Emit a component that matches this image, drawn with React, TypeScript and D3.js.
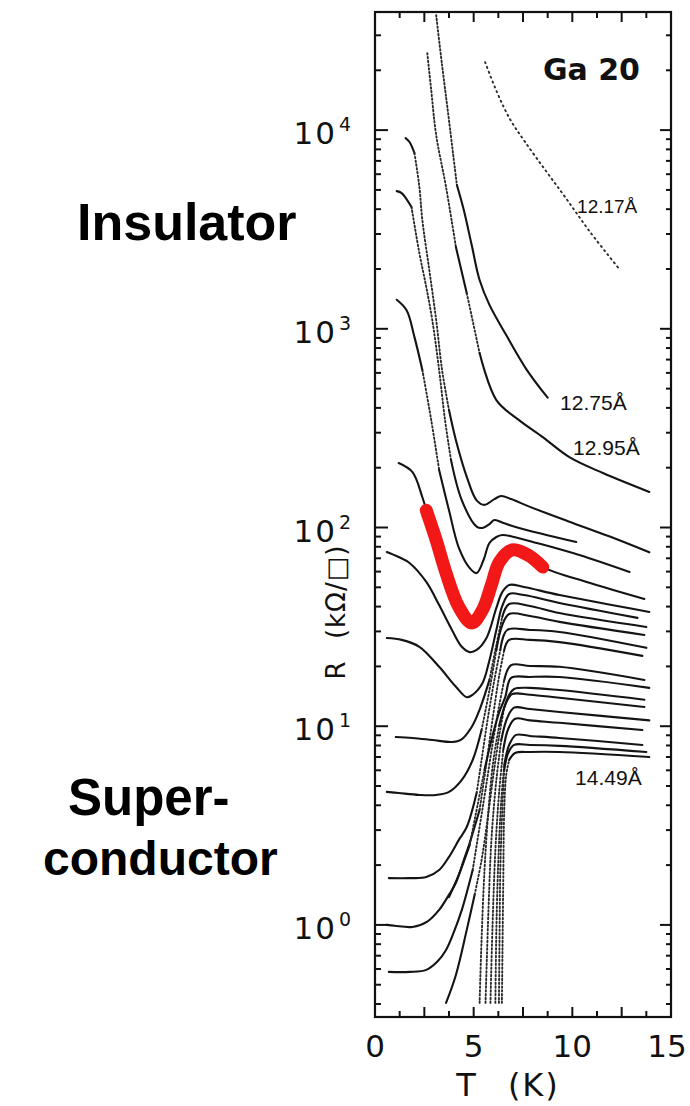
import React from 'react';
import * as d3 from 'd3';

const W = 690;
const H = 1106;

// axis domains
const xDomain: [number, number] = [0, 15];
const yDomain: [number, number] = [0.344, 39300];
const xTickLabels = [0, 5, 10, 15];
const yTickExps = [0, 1, 2, 3, 4];

// curves: [T (K), R (kOhm/sq)]
const c1217: [number, number][] = [[5.58, 21990], [6.18, 15530], [6.84, 11350], [7.6, 8730], [8.62, 6310], [9.63, 4610], [10.9, 3070], [12.42, 1976]];
const c1275: [number, number][] = [[3.1, 37900], [3.4, 21200], [3.75, 11200], [4.15, 5290], [4.5, 3960], [4.9, 2640], [5.3, 1760], [5.8, 1320], [6.65, 930], [7.7, 620], [8.75, 450]];
const c1295: [number, number][] = [[2.65, 24400], [2.85, 15900], [3.1, 9440], [3.6, 5170], [4.1, 2580], [4.65, 1510], [5.3, 755], [6.15, 438], [7.3, 347], [8.5, 285], [9.85, 226], [11.55, 188], [13.9, 151]];
const c1: [number, number][] = [[1.55, 9120], [1.75, 8710], [2.0, 7660], [2.25, 5170], [2.4, 3520], [2.75, 1980], [3.1, 1110], [3.4, 620], [3.75, 390], [4.1, 275], [4.65, 180], [5.15, 137], [5.55, 130], [6.05, 139], [6.4, 144], [6.9, 139], [7.85, 127], [9.85, 107], [11.9, 90], [13.9, 75]];
const c2: [number, number][] = [[1.1, 4930], [1.35, 4820], [1.85, 4100], [2.25, 2400], [2.6, 1620], [2.9, 1110], [3.25, 620], [3.55, 347], [3.85, 219], [4.4, 137], [5.15, 101], [5.45, 99.5], [5.8, 104], [6.05, 109], [6.55, 105], [7.3, 99.5], [10.2, 84.5]];
const c3: [number, number][] = [[1.1, 1400], [1.6, 1240], [2.0, 908], [2.4, 620], [2.85, 347], [3.25, 195], [3.75, 122], [4.25, 79], [4.8, 62.5], [5.15, 59], [5.5, 68.6], [5.8, 83.6], [6.15, 89.6], [6.45, 91.7], [7.05, 89.6], [8.2, 83.6], [10.35, 72.7], [12.9, 59.7]];
const c4: [number, number][] = [[1.2, 211], [1.9, 190], [2.4, 142], [2.75, 109], [3.25, 75], [3.75, 51], [4.25, 39.8], [4.7, 34.3], [5.0, 33.5], [5.45, 38.5], [5.9, 51.4], [6.3, 66.3], [6.65, 74.5], [7.05, 76.2], [7.85, 71.1], [8.5, 63.2], [10.9, 52.6], [13.65, 43.7]];
const c5: [number, number][] = [[0.6, 75.3], [1.2, 71], [1.75, 66.3], [2.6, 53.2], [3.25, 40.7], [3.9, 30.5], [4.4, 25.1], [4.8, 23.6], [5.15, 24.2], [5.65, 27.8], [6.15, 39.4], [6.45, 47.3], [6.8, 51.4], [7.55, 50.2], [9.35, 45.7], [13.9, 37.6]];
const c6: [number, number][] = [[0.6, 27.8], [1.35, 27.2], [2.25, 25.1], [3.25, 19.9], [4.1, 15.8], [4.65, 14.0], [4.95, 14.4], [5.45, 16.5], [5.8, 21.5], [6.15, 30.5], [6.45, 40.3], [6.8, 46.3], [7.55, 45.7], [9.35, 41.7], [13.3, 35.1]];
const c7: [number, number][] = [[1.05, 8.83], [1.9, 8.73], [2.9, 8.53], [3.9, 8.33], [4.35, 8.53], [4.9, 9.91], [5.3, 12.1], [5.8, 17.1], [6.15, 25.6], [6.45, 35.5], [6.8, 41.2], [7.85, 40.3], [9.35, 37.1], [13.75, 31.6]];
const c8: [number, number][] = [[0.6, 4.67], [1.2, 4.61], [2.25, 4.51], [3.1, 4.51], [3.75, 4.67], [4.4, 5.37], [4.95, 6.76], [5.4, 9.57], [5.8, 15.2], [6.15, 24.2], [6.45, 32.3], [6.8, 36.7], [7.85, 35.9], [9.35, 33.5], [13.65, 28.8]];
const c9: [number, number][] = [[0.7, 1.72], [1.75, 1.72], [2.6, 1.74], [3.25, 1.89], [3.75, 2.2], [4.25, 2.68], [4.65, 3.11], [5.15, 4.61], [5.4, 6.76], [5.7, 10.7], [6.05, 17.1], [6.35, 24.2], [6.7, 30.5], [7.85, 30.5], [9.35, 29.8], [13.75, 24.8]];
const c10: [number, number][] = [[0.6, 1.0], [1.0, 0.99], [1.9, 0.977], [2.65, 1.04], [3.25, 1.19], [3.75, 1.42], [4.1, 1.63], [4.5, 2.12], [4.8, 2.59], [5.3, 3.79], [5.6, 6.03], [5.95, 10.7], [6.3, 18.1], [6.55, 24.2], [6.8, 27.2], [7.85, 27.2], [9.35, 26.5], [13.55, 22.6]];
const c11: [number, number][] = [[0.7, 0.58], [1.75, 0.58], [2.6, 0.594], [3.15, 0.652], [3.6, 0.748], [4.0, 0.922], [4.4, 1.19], [4.95, 1.89], [5.3, 3.11], [5.6, 4.78], [5.95, 8.05], [6.3, 12.8], [6.55, 17.1], [6.9, 20.3], [7.85, 20.1], [9.35, 19.9], [13.65, 17.1]];
const d2: [number, number][] = [[3.75, 1.38], [4.25, 1.79], [4.8, 2.53], [5.2, 4.02], [5.55, 6.03], [5.9, 8.53], [6.3, 11.8], [6.6, 14.0], [6.9, 17.5], [7.85, 17.7], [9.35, 17.7], [13.9, 15.6]];
const d1: [number, number][] = [[3.6, 0.405], [4.1, 0.56], [4.65, 0.944], [5.05, 1.42], [5.4, 2.12], [5.7, 3.37], [6.0, 5.69], [6.3, 9.04], [6.55, 12.4], [6.8, 14.4], [7.05, 15.4], [7.85, 15.6], [9.35, 15.2], [13.65, 13.6]];
const s4: [number, number][] = [[5.3, 0.405], [5.4, 0.841], [5.55, 1.89], [5.75, 3.79], [6.0, 6.76], [6.3, 10.1], [6.6, 12.8], [6.95, 14.5], [7.85, 14.4], [9.35, 13.9], [13.65, 12.5]];
const s5: [number, number][] = [[5.6, 0.405], [5.75, 1.19], [5.9, 2.68], [6.15, 5.37], [6.4, 8.53], [6.7, 11.0], [7.05, 12.4], [7.85, 12.2], [9.35, 11.8], [13.9, 10.7]];
const s6: [number, number][] = [[5.85, 0.405], [5.95, 0.944], [6.1, 2.38], [6.3, 4.78], [6.5, 7.6], [6.75, 9.68], [7.1, 10.9], [7.85, 10.7], [9.35, 10.4], [13.55, 9.57]];
const s7: [number, number][] = [[6.1, 0.405], [6.15, 0.944], [6.25, 2.12], [6.4, 4.26], [6.55, 6.38], [6.8, 8.05], [7.15, 9.04], [7.85, 8.93], [9.35, 8.73], [13.55, 8.05]];
const s8: [number, number][] = [[6.28, 0.405], [6.31, 0.841], [6.35, 1.89], [6.45, 3.79], [6.55, 6.03], [6.75, 7.33], [7.05, 8.05], [7.85, 8.05], [9.35, 7.96], [13.75, 7.42]];
const s9: [number, number][] = [[6.43, 0.405], [6.46, 0.748], [6.5, 1.68], [6.55, 3.79], [6.65, 5.69], [6.8, 6.76], [7.1, 7.33], [7.85, 7.42], [9.35, 7.42], [13.9, 7.0]];

// red highlighted curve
const redCurve: [number, number][] = [[2.6, 122], [3.1, 86.5], [3.6, 59], [4.25, 39.8], [4.9, 33.1], [5.45, 38.5], [5.9, 51.4], [6.3, 67], [6.95, 77.1], [7.75, 72.7], [8.5, 63.2]];

const seriesList: { pts: [number, number][]; dotted?: boolean }[] = [
  { pts: c1217, dotted: true },
  { pts: c1275 }, { pts: c1295 },
  { pts: c1 }, { pts: c2 }, { pts: c3 }, { pts: c4 }, { pts: c5 }, { pts: c6 },
  { pts: c7 }, { pts: c8 }, { pts: c9 }, { pts: c10 }, { pts: c11 },
  { pts: d2 }, { pts: d1 }, { pts: s4 }, { pts: s5 }, { pts: s6 }, { pts: s7 }, { pts: s8 }, { pts: s9 },
];

// curve labels
const curveLabels: { text: string; T: number; R: number; size: number }[] = [
  { text: '12.17Å', T: 10.24, R: 3820, size: 19 },
  { text: '12.75Å', T: 9.38, R: 390, size: 21 },
  { text: '12.95Å', T: 10.04, R: 232, size: 21 },
  { text: '14.49Å', T: 10.14, R: 5.06, size: 21 },
];

const FRAME = { left: 375, right: 671, top: 12, bottom: 1017 };

export default function App() {
  const x = d3.scaleLinear().domain(xDomain).range([FRAME.left, FRAME.right]);
  const y = d3.scaleLog().domain(yDomain).range([FRAME.bottom, FRAME.top]);
  const line = d3.line<[number, number]>().x(d => d[0]).y(d => d[1]).curve(d3.curveCatmullRom.alpha(0.5));

  const runs = (pts: [number, number][], allDotted?: boolean) => {
    const px = pts.map(([t, r]) => [x(t), y(r)] as [number, number]);
    if (allDotted) return [{ dotted: true, p: px }];
    const out: { dotted: boolean; p: [number, number][] }[] = [];
    let cur: { dotted: boolean; p: [number, number][] } | null = null;
    for (let i = 0; i < px.length - 1; i++) {
      const dx = Math.abs(px[i + 1][0] - px[i][0]);
      const dy = Math.abs(px[i + 1][1] - px[i][1]);
      const steep = dy > 4.5 * dx;
      if (!cur || cur.dotted !== steep) {
        cur = { dotted: steep, p: [px[i]] };
        out.push(cur);
      }
      cur.p.push(px[i + 1]);
    }
    return out;
  };

  const yMajor = yTickExps.map(e => Math.pow(10, e));
  const yMinor: number[] = [];
  for (let e = -1; e <= 4; e++) {
    for (let m = 2; m <= 9; m++) {
      const v = m * Math.pow(10, e);
      if (v >= yDomain[0] && v <= yDomain[1]) yMinor.push(v);
    }
  }
  const xTicks = d3.range(0, 15.001, 1.25);

  const redPx = redCurve.map(([t, r]) => [x(t), y(r)] as [number, number]);

  return (
    <svg width={W} height={H} style={{ position: 'absolute', left: 0, top: 0, background: '#fff' }}>
      <defs>
        <clipPath id="plotClip">
          <rect x={FRAME.left} y={FRAME.top} width={FRAME.right - FRAME.left} height={FRAME.bottom - FRAME.top} />
        </clipPath>
      </defs>
      <rect x={0} y={0} width={W} height={H} fill="#fff" />

      {/* big labels */}
      <g fontFamily="'Liberation Sans', Arial, sans-serif" fontWeight="bold" fill="#000">
        <text x={77} y={240} fontSize={52}>Insulator</text>
        <text x={68} y={815} fontSize={51}>Super-</text>
        <text x={43} y={875} fontSize={48}>conductor</text>
      </g>

      {/* curves */}
      <g clipPath="url(#plotClip)" fill="none" strokeLinecap="round" strokeLinejoin="round">
        {seriesList.map((s, i) =>
          runs(s.pts, s.dotted).map((r, j) => (
            <path
              key={`${i}-${j}`}
              d={line(r.p) || ''}
              stroke={r.dotted ? '#2a2a2a' : '#141414'}
              strokeWidth={r.dotted ? 1.9 : 2.1}
              strokeDasharray={r.dotted ? (s.dotted ? '1.2 4' : '1.5 2.3') : undefined}
            />
          ))
        )}
        <path d={line(redPx) || ''} stroke="#f21818" strokeWidth={13} />
      </g>

      {/* frame */}
      <rect x={FRAME.left} y={FRAME.top} width={FRAME.right - FRAME.left} height={FRAME.bottom - FRAME.top} fill="none" stroke="#111" strokeWidth={2.2} />

      {/* ticks */}
      <g stroke="#111" strokeWidth={2}>
        {yMajor.map(v => (
          <g key={`ym${v}`}>
            <line x1={FRAME.left} x2={FRAME.left + 13} y1={y(v)} y2={y(v)} />
            <line x1={FRAME.right} x2={FRAME.right - 11} y1={y(v)} y2={y(v)} />
          </g>
        ))}
        {yMinor.map(v => (
          <g key={`yn${v}`}>
            <line x1={FRAME.left} x2={FRAME.left + 6} y1={y(v)} y2={y(v)} />
            <line x1={FRAME.right} x2={FRAME.right - 5} y1={y(v)} y2={y(v)} />
          </g>
        ))}
        {xTicks.map(t => {
          const major = Math.abs(t / 2.5 - Math.round(t / 2.5)) < 1e-6;
          const len = major ? 10 : 6;
          return (
            <g key={`xt${t}`}>
              <line x1={x(t)} x2={x(t)} y1={FRAME.bottom} y2={FRAME.bottom - len} />
              <line x1={x(t)} x2={x(t)} y1={FRAME.top} y2={FRAME.top + len} />
            </g>
          );
        })}
      </g>

      {/* y tick labels */}
      <g fontFamily="'DejaVu Sans', sans-serif" fill="#111">
        {yTickExps.map(e => (
          <text key={`yl${e}`} x={337} y={y(Math.pow(10, e)) + 14} fontSize={31} textAnchor="end" letterSpacing={2}>
            10
          </text>
        ))}
        {yTickExps.map(e => (
          <text key={`ys${e}`} x={339} y={y(Math.pow(10, e)) + 1} fontSize={19}>
            {e}
          </text>
        ))}
      </g>

      {/* x tick labels */}
      <g fontFamily="'DejaVu Sans', sans-serif" fill="#111" fontSize={31} textAnchor="middle">
        {xTickLabels.map(t => (
          <text key={`xl${t}`} x={Math.min(x(t), 667)} y={1057}>{t}</text>
        ))}
      </g>

      {/* axis titles */}
      <text x={508} y={1096} fontFamily="'DejaVu Sans', sans-serif" fontSize={32} textAnchor="middle" fill="#111" wordSpacing={18} letterSpacing={2}>
        T (K)
      </text>
      <text transform="translate(345,612) rotate(-90)" fontFamily="'DejaVu Sans', sans-serif" fontSize={26} textAnchor="middle" fill="#111" wordSpacing={12} letterSpacing={1}>
        R (kΩ/□)
      </text>

      {/* Ga 20 */}
      <text x={x(8.51)} y={y(18270) + 2} fontFamily="'DejaVu Sans', sans-serif" fontWeight="bold" fontSize={30} fill="#111">
        Ga 20
      </text>

      {/* curve labels */}
      <g fontFamily="'Liberation Sans', Arial, sans-serif" fill="#111">
        {curveLabels.map(l => (
          <text key={l.text} x={x(l.T)} y={y(l.R)} fontSize={l.size}>{l.text}</text>
        ))}
      </g>
    </svg>
  );
}
